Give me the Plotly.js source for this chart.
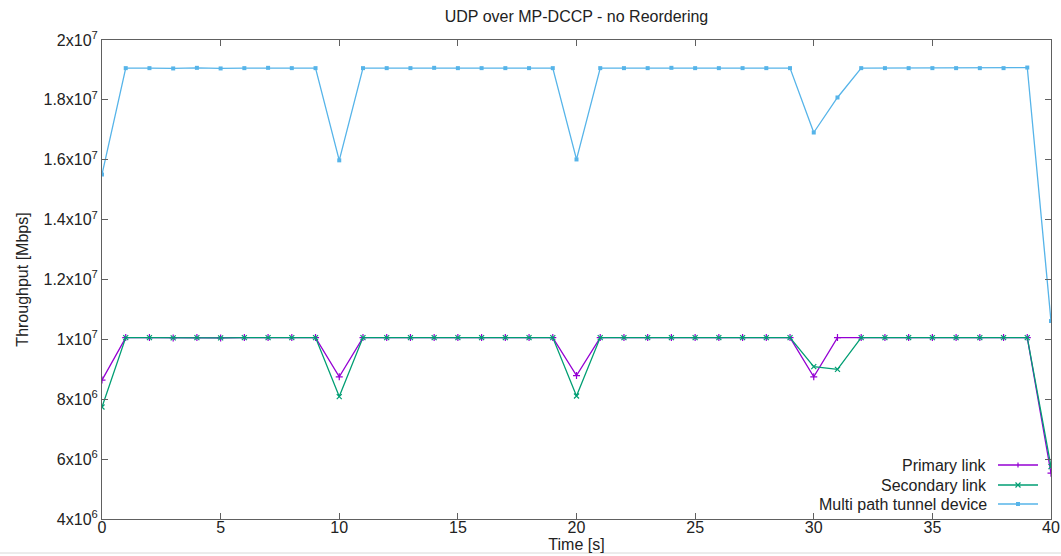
<!DOCTYPE html>
<html>
<head>
<meta charset="utf-8">
<script src="https://cdn.plot.ly/plotly-3.0.1.min.js"></script>
<style>html,body{margin:0;padding:0;background:#fff;}#chart{width:1061px;height:556px;}</style>
</head>
<body>
<div id="chart"></div>
<script>
// ---- data ----
var timeS = [0,1,2,3,4,5,6,7,8,9,10,11,12,13,14,15,16,17,18,19,20,21,22,23,24,25,26,27,28,29,30,31,32,33,34,35,36,37,38,39,40];
var primaryLink = [8.64e6,1.006e7,1.006e7,1.005e7,1.006e7,1.005e7,1.006e7,1.006e7,1.006e7,1.006e7,8.75e6,
  1.006e7,1.006e7,1.006e7,1.006e7,1.006e7,1.006e7,1.006e7,1.006e7,1.006e7,8.79e6,
  1.006e7,1.006e7,1.006e7,1.006e7,1.006e7,1.006e7,1.006e7,1.006e7,1.006e7,8.75e6,
  1.006e7,1.006e7,1.006e7,1.006e7,1.006e7,1.006e7,1.006e7,1.006e7,1.006e7,5.53e6];
var secondaryLink = [7.74e6,1.006e7,1.006e7,1.005e7,1.006e7,1.005e7,1.006e7,1.006e7,1.006e7,1.006e7,8.09e6,
  1.006e7,1.006e7,1.006e7,1.006e7,1.006e7,1.006e7,1.006e7,1.006e7,1.006e7,8.11e6,
  1.006e7,1.006e7,1.006e7,1.006e7,1.006e7,1.006e7,1.006e7,1.006e7,1.006e7,9.09e6,
  9.0e6,1.006e7,1.006e7,1.006e7,1.006e7,1.006e7,1.006e7,1.006e7,1.006e7,5.75e6];
var multiPath = [1.551e7,1.906e7,1.906e7,1.905e7,1.907e7,1.905e7,1.906e7,1.907e7,1.906e7,1.906e7,1.598e7,
  1.906e7,1.906e7,1.906e7,1.907e7,1.906e7,1.906e7,1.906e7,1.906e7,1.906e7,1.601e7,
  1.906e7,1.906e7,1.906e7,1.907e7,1.906e7,1.906e7,1.906e7,1.906e7,1.906e7,1.691e7,
  1.808e7,1.906e7,1.906e7,1.906e7,1.906e7,1.906e7,1.906e7,1.906e7,1.908e7,1.061e7];
var seriesNames = ["Primary link","Secondary link","Multi path tunnel device"];
var yTickVals = [4e6,6e6,8e6,1e7,1.2e7,1.4e7,1.6e7,1.8e7,2e7];
var yTickText = ["4x10<sup>6</sup>","6x10<sup>6</sup>","8x10<sup>6</sup>","1x10<sup>7</sup>","1.2x10<sup>7</sup>","1.4x10<sup>7</sup>","1.6x10<sup>7</sup>","1.8x10<sup>7</sup>","2x10<sup>7</sup>"];
var xTickVals = [0,5,10,15,20,25,30,35,40];

// ---- styles ----
var colors = ["#9400d3","#009e73","#56b4e9"];
var FONT = "Liberation Sans, Arial, sans-serif";
var FS = 16;

var traces = [
  {x: timeS, y: primaryLink, name: seriesNames[0], mode: "lines+markers",
   line: {color: colors[0], width: 1.3},
   marker: {symbol: "cross-thin-open", size: 5, color: colors[0], line: {color: colors[0], width: 1.2}}},
  {x: timeS, y: secondaryLink, name: seriesNames[1], mode: "lines+markers",
   line: {color: colors[1], width: 1.3},
   marker: {symbol: "x-thin-open", size: 5, color: colors[1], line: {color: colors[1], width: 1.2}}},
  {x: timeS, y: multiPath, name: seriesNames[2], mode: "lines+markers",
   line: {color: colors[2], width: 1.3},
   marker: {symbol: "square", size: 4, color: colors[2]}}
];

// manual gnuplot-style legend (text right, sample on right)
var W = 949, H = 479;
var legTextX = (989-102)/W, legL0 = (998-102)/W, legL1 = (1038-102)/W, legM = (1018-102)/W;
var rowsY = [(519-465)/H, (519-485)/H, (519-504)/H];
var dx = 2.5/W, dy = 2.5/H;
var annotations = [], shapes = [];
for (var i = 0; i < 3; i++) {
  annotations.push({xref:"paper", yref:"paper", x: legTextX, y: rowsY[i], xanchor:"right", yanchor:"middle",
    text: seriesNames[i], showarrow:false, font:{family:FONT, size:FS, color:"#222"}});
  shapes.push({type:"line", xref:"paper", yref:"paper", x0: legL0, x1: legL1, y0: rowsY[i], y1: rowsY[i],
    line:{color: colors[i], width:1.3}});
}
// legend marker glyphs
shapes.push({type:"line", xref:"paper", yref:"paper", x0:legM, x1:legM, y0:rowsY[0]-dy, y1:rowsY[0]+dy, line:{color:colors[0], width:1.2}});
shapes.push({type:"line", xref:"paper", yref:"paper", x0:legM-dx, x1:legM+dx, y0:rowsY[1]-dy, y1:rowsY[1]+dy, line:{color:colors[1], width:1.2}});
shapes.push({type:"line", xref:"paper", yref:"paper", x0:legM-dx, x1:legM+dx, y0:rowsY[1]+dy, y1:rowsY[1]-dy, line:{color:colors[1], width:1.2}});
shapes.push({type:"rect", xref:"paper", yref:"paper", x0:legM-dx*0.8, x1:legM+dx*0.8, y0:rowsY[2]-dy*0.8, y1:rowsY[2]+dy*0.8, fillcolor:colors[2], line:{width:0}});
// bottom screenshot separator line
shapes.push({type:"line", xref:"paper", yref:"paper", x0:-102/W, x1:(1061-102)/W, y0:-(553-519)/H, y1:-(553-519)/H, line:{color:"#d8d8d8", width:1}});

var axisCommon = {showline:true, mirror:"ticks", linecolor:"#606060", linewidth:1, ticks:"inside", ticklen:6,
  tickcolor:"#606060", showgrid:false, zeroline:false, tickfont:{family:FONT, size:FS, color:"#222"}};

var layout = {
  width:1061, height:556,
  margin:{l:102, r:10, t:40, b:37},
  paper_bgcolor:"#fff", plot_bgcolor:"#fff",
  showlegend:false,
  title:{text:"UDP over MP-DCCP - no Reordering", font:{family:FONT, size:FS, color:"#222"}, x:0.5, xref:"paper", y:0.97, yanchor:"middle"},
  xaxis: Object.assign({}, axisCommon, {range:[0,40], tickvals:xTickVals, ticktext:xTickVals.map(String),
    ticklabelstandoff:-6,
    title:{text:"Time [s]", font:{family:FONT, size:FS, color:"#222"}, standoff:0}}),
  yaxis: Object.assign({}, axisCommon, {range:[4e6,2e7], tickvals:yTickVals, ticktext:yTickText,
    title:{text:"Throughput [Mbps]", font:{family:FONT, size:FS, color:"#222"}, standoff:10}}),
  annotations: annotations,
  shapes: shapes
};

Plotly.newPlot("chart", traces, layout, {displayModeBar:false, staticPlot:true});
</script>
</body>
</html>
